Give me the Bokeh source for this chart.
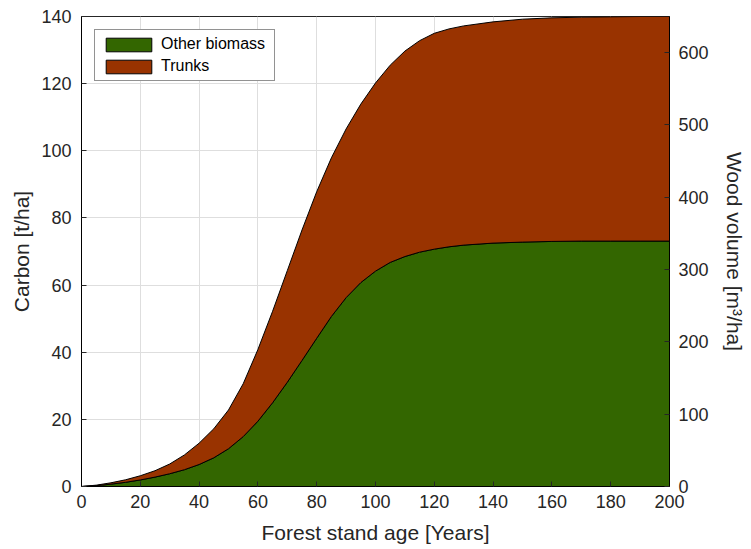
from bokeh.plotting import figure
from bokeh.models import Range1d, LinearAxis, FixedTicker, Legend, LegendItem
from bokeh.embed import file_html
from bokeh.resources import INLINE

# Forest stand age in years
age = [0, 5, 10, 15, 20, 25, 30, 35, 40, 45, 50, 55, 60, 65, 70, 75, 80, 85, 90,
       95, 100, 105, 110, 115, 120, 125, 130, 140, 150, 160, 170, 180, 190, 200]

# Carbon stored in other biomass [t/ha]
other_biomass = [0.0, 0.25, 0.7, 1.25, 1.95, 2.8, 3.8, 5.0, 6.55, 8.55, 11.25, 14.85,
                 19.45, 24.95, 31.05, 37.55, 44.15, 50.65, 56.25, 60.75, 64.15, 66.75,
                 68.5, 69.8, 70.7, 71.4, 71.9, 72.5, 72.8, 73.0, 73.1, 73.1, 73.1, 73.1]

# Carbon stored in trunks [t/ha]
trunks = [0.0, 0.15, 0.4, 0.75, 1.25, 1.9, 2.9, 4.4, 6.35, 8.65, 11.55, 15.75, 21.35,
          27.25, 33.25, 38.85, 43.65, 47.25, 50.25, 53.15, 56.05, 58.75, 61.2, 63.0,
          64.3, 64.9, 65.3, 65.9, 66.4, 66.6, 66.7, 66.8, 66.9, 66.9]

x_ticks = [0, 20, 40, 60, 80, 100, 120, 140, 160, 180, 200]
carbon_ticks = [0, 20, 40, 60, 80, 100, 120, 140]
volume_ticks = [0, 100, 200, 300, 400, 500, 600]

GREEN = "#336600"
BROWN = "#993300"
TEXT = "#262626"
FONT = "Liberation Sans"

total = [o + t for o, t in zip(other_biomass, trunks)]

p = figure(width=751, height=549, output_backend="svg", toolbar_location=None,
           x_range=Range1d(0, 200), y_range=Range1d(0, 140),
           min_border_left=81, min_border_right=82, min_border_top=16,
           min_border_bottom=63)
p.extra_y_ranges = {"volume": Range1d(0, 650)}

# stacked areas as closed polygons
other_x = age + age[::-1]
other_y = other_biomass + [0.0] * len(age)
trunk_x = age + age[::-1]
trunk_y = total + other_biomass[::-1]

r_other = p.patch(other_x, other_y, fill_color=GREEN, line_color="black", line_width=1)
r_trunk = p.patch(trunk_x, trunk_y, fill_color=BROWN, line_color="black", line_width=1)

legend = Legend(items=[LegendItem(label="Other biomass", renderers=[r_other]),
                       LegendItem(label="Trunks", renderers=[r_trunk])],
                location="top_left", margin=13, padding=5, spacing=4,
                glyph_width=57, glyph_height=17, label_standoff=4, label_width=108,
                label_text_font=FONT, label_text_font_size="16px",
                label_text_color="black", border_line_color=TEXT,
                border_line_width=1, background_fill_alpha=1.0)
p.add_layout(legend)

# right-hand wood volume axis
right = LinearAxis(y_range_name="volume", axis_label="Wood volume [m³/ha]")
p.add_layout(right, "right")

for ax in p.axis:
    ax.axis_line_color = "black"
    ax.major_tick_in = 5
    ax.major_tick_out = 0
    ax.minor_tick_line_color = None
    ax.major_tick_line_color = TEXT
    ax.major_label_text_font = FONT
    ax.major_label_text_font_size = "18px"
    ax.major_label_text_color = TEXT
    ax.axis_label_text_font = FONT
    ax.axis_label_text_font_size = "21px"
    ax.axis_label_text_font_style = "normal"
    ax.axis_label_text_color = TEXT

p.xaxis.axis_label = "Forest stand age [Years]"
p.xaxis.ticker = FixedTicker(ticks=x_ticks)
p.xaxis.major_label_standoff = 8
p.xaxis.axis_label_standoff = 10
p.yaxis[0].axis_label = "Carbon [t/ha]"
p.yaxis[0].ticker = FixedTicker(ticks=carbon_ticks)
p.yaxis[0].major_label_standoff = 10
p.yaxis[0].axis_label_standoff = 5
right.ticker = FixedTicker(ticks=volume_ticks)
right.major_label_standoff = 9
right.axis_label_standoff = 11

p.xgrid.ticker = FixedTicker(ticks=x_ticks)
p.ygrid.ticker = FixedTicker(ticks=carbon_ticks)
p.grid.grid_line_color = "#dedede"
p.grid.grid_line_width = 1

p.outline_line_color = TEXT
p.outline_line_width = 1
p.background_fill_color = "white"
p.border_fill_color = "white"

open("out.html", "w").write(file_html(p, INLINE))
